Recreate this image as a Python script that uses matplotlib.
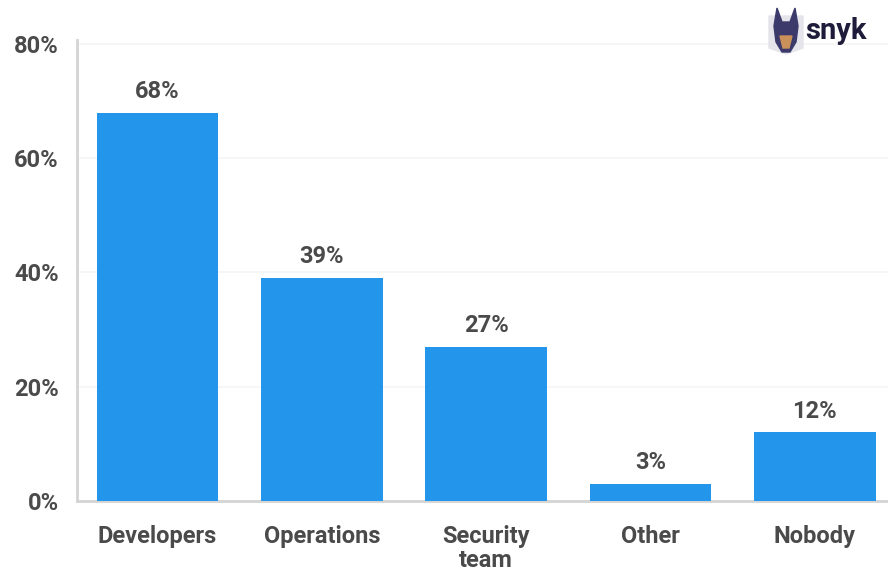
import matplotlib
matplotlib.use("Agg")
import matplotlib.pyplot as plt
from matplotlib.patches import Polygon

categories = ["Developers", "Operations", "Security\nteam", "Other", "Nobody"]
shares = [68, 39, 27, 3, 12]
yticks = [0, 20, 40, 60, 80]

BAR = "#2396eb"
TEXT = "#4a4a4a"
AXIS = "#d4d4d4"
GRID = "#f5f5f5"

plt.rcParams["font.family"] = ["Roboto", "DejaVu Sans"]
plt.rcParams["font.weight"] = "bold"

fig = plt.figure(figsize=(8.88, 5.74), dpi=100)
ax = fig.add_axes([77 / 888, 1 - 501 / 574, 811 / 888, 461 / 574])

x = list(range(len(categories)))
ax.bar(x, shares, width=0.74, color=BAR, zorder=3)
for xi, v in zip(x, shares):
    ax.annotate(f"{v}%", (xi, v), xytext=(0, 7), textcoords="offset points",
                ha="center", va="bottom", fontsize=17, fontweight="bold", color=TEXT)

ax.set_xlim(-0.49, 4.445)
ax.set_ylim(0, 80.7)
ax.set_xticks(x)
ax.set_xticklabels(categories, fontsize=17, fontweight="bold", color=TEXT,
                   linespacing=1.05, va="top")
ax.set_yticks(yticks)
ax.set_yticklabels([f"{t}%" for t in yticks], fontsize=17, fontweight="bold", color=TEXT)
ax.tick_params(axis="x", length=0, pad=17)
ax.tick_params(axis="y", length=0, pad=13)

ax.grid(axis="y", color=GRID, linewidth=1.2, zorder=0)
for s in ("top", "right"):
    ax.spines[s].set_visible(False)
ax.spines["left"].set_color(AXIS)
ax.spines["left"].set_linewidth(2)
ax.spines["bottom"].set_color(AXIS)
ax.spines["bottom"].set_linewidth(2)

# small doberman badge next to the wordmark
lx = fig.add_axes([766 / 888, 1 - 56 / 574, 40 / 888, 50 / 574])
lx.set_xlim(0, 40)
lx.set_ylim(0, 50)
lx.axis("off")
lx.add_patch(Polygon([(3, 40), (37, 40), (37, 8), (20, 2), (3, 8)], closed=True,
                     color="#e4e4ea", zorder=1))
lx.add_patch(Polygon([(8, 30), (11, 48), (16, 34), (24, 34), (29, 48), (32, 30),
                      (30, 14), (24, 4), (16, 4), (10, 14)], closed=True,
                     color="#3b3a6b", zorder=2))
lx.add_patch(Polygon([(14, 20), (26, 20), (23, 8), (17, 8)], closed=True,
                     color="#c9905a", zorder=3))
fig.text(805 / 888, 1 - 31 / 574, "snyk", fontsize=21, fontweight="bold",
         color="#1e1c3a", ha="left", va="center")

fig.savefig("out.png", dpi=100)
